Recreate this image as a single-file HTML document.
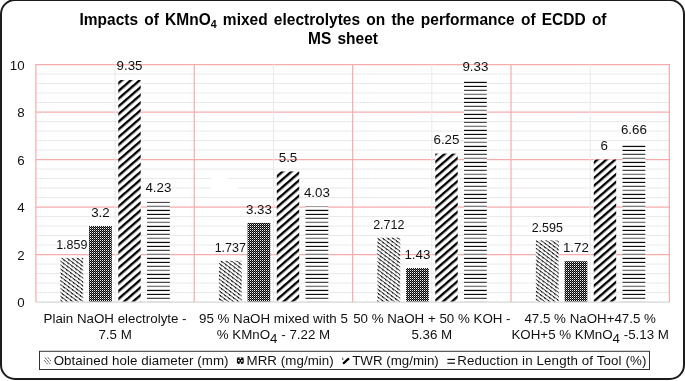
<!DOCTYPE html>
<html><head><meta charset="utf-8"><title>chart</title>
<style>
html,body{margin:0;padding:0;background:#fff;}
body{width:685px;height:381px;overflow:hidden;position:relative;font-family:"Liberation Sans",sans-serif;}
#frame{position:absolute;left:-0.2px;top:-1.1px;width:681.3px;height:377.5px;border:2px solid #1c1c1c;border-radius:15px;box-sizing:content-box;}
svg{position:absolute;left:0;top:0;}
text{font-family:"Liberation Sans",sans-serif;fill:#111;}
.ax{font-size:13.33px;}
.dl{font-size:13.33px;text-anchor:middle;}
.cat{font-size:13.33px;text-anchor:middle;}
.lg{font-size:13.33px;}
.ttl{font-size:16px;font-weight:bold;text-anchor:middle;fill:#000;word-spacing:1.96px;}
</style></head><body>
<div id="frame"></div>
<svg width="685" height="381" viewBox="0 0 685 381">
<defs>
<pattern id="p1" width="5" height="3.12" patternUnits="userSpaceOnUse" patternTransform="rotate(37) skewX(27.2)">
<rect width="5" height="3.12" fill="#fff"/><rect x="0" y="0.15" width="5" height="0.75" fill="#111"/><rect x="0" y="0" width="1.7" height="1.2" fill="#000"/>
</pattern>
<pattern id="p2" width="2" height="2" patternUnits="userSpaceOnUse">
<rect width="2" height="2" fill="#000"/><rect x="0" y="0" width="1" height="1" fill="#f4f4f4"/><rect x="1" y="1" width="1" height="1" fill="#666"/>
</pattern>
<pattern id="p3" width="8" height="5.81" patternUnits="userSpaceOnUse" patternTransform="rotate(-41)">
<rect width="8" height="5.81" fill="#fff"/><rect x="0" y="0" width="8" height="2.35" fill="#000"/>
</pattern>
<pattern id="p4" width="4" height="16" patternUnits="userSpaceOnUse">
<rect width="4" height="16" fill="#fff"/><rect x="0" y="1.8" width="4" height="1.25" fill="#0c0c0c"/><rect x="0" y="5.85" width="4" height="1.15" fill="#0c0c0c"/><rect x="0" y="9.75" width="4" height="1.25" fill="#484848"/><rect x="0" y="13.7" width="4" height="1.35" fill="#7a7a7a"/>
</pattern>
</defs>

<line x1="35.9" x2="669.4" y1="292.55" y2="292.55" stroke="#e9e9e9" stroke-width="1"/>
<line x1="35.9" x2="669.4" y1="283.05" y2="283.05" stroke="#e9e9e9" stroke-width="1"/>
<line x1="35.9" x2="669.4" y1="273.55" y2="273.55" stroke="#e9e9e9" stroke-width="1"/>
<line x1="35.9" x2="669.4" y1="264.05" y2="264.05" stroke="#e9e9e9" stroke-width="1"/>
<line x1="35.9" x2="669.4" y1="245.05" y2="245.05" stroke="#e9e9e9" stroke-width="1"/>
<line x1="35.9" x2="669.4" y1="235.55" y2="235.55" stroke="#e9e9e9" stroke-width="1"/>
<line x1="35.9" x2="669.4" y1="226.05" y2="226.05" stroke="#e9e9e9" stroke-width="1"/>
<line x1="35.9" x2="669.4" y1="216.55" y2="216.55" stroke="#e9e9e9" stroke-width="1"/>
<line x1="35.9" x2="669.4" y1="197.55" y2="197.55" stroke="#e9e9e9" stroke-width="1"/>
<line x1="35.9" x2="669.4" y1="188.05" y2="188.05" stroke="#e9e9e9" stroke-width="1"/>
<line x1="35.9" x2="669.4" y1="178.55" y2="178.55" stroke="#e9e9e9" stroke-width="1"/>
<line x1="35.9" x2="669.4" y1="169.05" y2="169.05" stroke="#e9e9e9" stroke-width="1"/>
<line x1="35.9" x2="669.4" y1="150.05" y2="150.05" stroke="#e9e9e9" stroke-width="1"/>
<line x1="35.9" x2="669.4" y1="140.55" y2="140.55" stroke="#e9e9e9" stroke-width="1"/>
<line x1="35.9" x2="669.4" y1="131.05" y2="131.05" stroke="#e9e9e9" stroke-width="1"/>
<line x1="35.9" x2="669.4" y1="121.55" y2="121.55" stroke="#e9e9e9" stroke-width="1"/>
<line x1="35.9" x2="669.4" y1="102.55" y2="102.55" stroke="#e9e9e9" stroke-width="1"/>
<line x1="35.9" x2="669.4" y1="93.05" y2="93.05" stroke="#e9e9e9" stroke-width="1"/>
<line x1="35.9" x2="669.4" y1="83.55" y2="83.55" stroke="#e9e9e9" stroke-width="1"/>
<line x1="35.9" x2="669.4" y1="74.05" y2="74.05" stroke="#e9e9e9" stroke-width="1"/>
<line x1="35.9" x2="669.4" y1="254.55" y2="254.55" stroke="#f7acac" stroke-width="1.2"/>
<line x1="35.9" x2="669.4" y1="207.05" y2="207.05" stroke="#f7acac" stroke-width="1.2"/>
<line x1="35.9" x2="669.4" y1="159.55" y2="159.55" stroke="#f7acac" stroke-width="1.2"/>
<line x1="35.9" x2="669.4" y1="112.05" y2="112.05" stroke="#f7acac" stroke-width="1.2"/>
<line x1="35.9" x2="669.4" y1="64.55" y2="64.55" stroke="#f7acac" stroke-width="1.2"/>
<line x1="115.09" x2="115.09" y1="64.55" y2="302.05" stroke="#e9e9e9" stroke-width="1"/>
<line x1="273.46" x2="273.46" y1="64.55" y2="302.05" stroke="#e9e9e9" stroke-width="1"/>
<line x1="431.84" x2="431.84" y1="64.55" y2="302.05" stroke="#e9e9e9" stroke-width="1"/>
<line x1="590.21" x2="590.21" y1="64.55" y2="302.05" stroke="#e9e9e9" stroke-width="1"/>
<line x1="35.9" x2="669.4" y1="302.05" y2="302.05" stroke="#d6d6d6" stroke-width="1.2"/>
<line x1="35.90" x2="35.90" y1="63.949999999999996" y2="302.05" stroke="#f7acac" stroke-width="1.2"/>
<line x1="194.28" x2="194.28" y1="63.949999999999996" y2="302.05" stroke="#f7acac" stroke-width="1.2"/>
<line x1="352.65" x2="352.65" y1="63.949999999999996" y2="302.05" stroke="#f7acac" stroke-width="1.2"/>
<line x1="511.02" x2="511.02" y1="63.949999999999996" y2="302.05" stroke="#f7acac" stroke-width="1.2"/>
<line x1="669.40" x2="669.40" y1="63.949999999999996" y2="302.05" stroke="#f7acac" stroke-width="1.2"/>
<text class="ax" x="24.6" y="307.05" text-anchor="end">0</text>
<text class="ax" x="24.6" y="259.55" text-anchor="end">2</text>
<text class="ax" x="24.6" y="212.05" text-anchor="end">4</text>
<text class="ax" x="24.6" y="164.55" text-anchor="end">6</text>
<text class="ax" x="24.6" y="117.05" text-anchor="end">8</text>
<text class="ax" x="24.6" y="69.55" text-anchor="end">10</text>
<rect x="211" y="175" width="16.1" height="8" fill="#fff"/><rect x="211" y="183" width="26.9" height="9" fill="#fff"/>
<rect x="60.40" y="257.90" width="22.8" height="43.55" fill="url(#p1)"/>
<rect x="89.10" y="226.05" width="22.7" height="75.40" fill="url(#p2)"/>
<rect x="118.30" y="79.99" width="22.4" height="221.46" fill="url(#p3)"/>
<rect x="147.00" y="201.59" width="22.8" height="99.86" fill="url(#p4)"/>
<rect x="218.90" y="260.80" width="22.8" height="40.65" fill="url(#p1)"/>
<rect x="247.60" y="222.96" width="22.7" height="78.49" fill="url(#p2)"/>
<rect x="276.80" y="171.43" width="22.4" height="130.03" fill="url(#p3)"/>
<rect x="305.50" y="206.34" width="22.8" height="95.11" fill="url(#p4)"/>
<rect x="377.39" y="237.64" width="22.8" height="63.81" fill="url(#p1)"/>
<rect x="406.09" y="268.09" width="22.7" height="33.36" fill="url(#p2)"/>
<rect x="435.29" y="153.61" width="22.4" height="147.84" fill="url(#p3)"/>
<rect x="463.99" y="80.46" width="22.8" height="220.99" fill="url(#p4)"/>
<rect x="535.88" y="240.42" width="22.8" height="61.03" fill="url(#p1)"/>
<rect x="564.59" y="261.20" width="22.7" height="40.25" fill="url(#p2)"/>
<rect x="593.78" y="159.55" width="22.4" height="141.90" fill="url(#p3)"/>
<rect x="622.49" y="143.88" width="22.8" height="157.58" fill="url(#p4)"/>
<text class="dl" x="71.80" y="249.08" textLength="31.3" lengthAdjust="spacingAndGlyphs">1.859</text>
<text class="dl" x="100.45" y="217.07">3.2</text>
<text class="dl" x="129.50" y="70.27">9.35</text>
<text class="dl" x="158.40" y="192.48">4.23</text>
<text class="dl" x="230.30" y="251.99" textLength="31.3" lengthAdjust="spacingAndGlyphs">1.737</text>
<text class="dl" x="258.95" y="213.96">3.33</text>
<text class="dl" x="288.00" y="162.17">5.5</text>
<text class="dl" x="316.89" y="197.25">4.03</text>
<text class="dl" x="388.79" y="228.71" textLength="31.3" lengthAdjust="spacingAndGlyphs">2.712</text>
<text class="dl" x="417.44" y="259.32">1.43</text>
<text class="dl" x="446.49" y="144.26">6.25</text>
<text class="dl" x="475.39" y="70.74">9.33</text>
<text class="dl" x="547.28" y="231.51" textLength="31.3" lengthAdjust="spacingAndGlyphs">2.595</text>
<text class="dl" x="575.94" y="252.39">1.72</text>
<text class="dl" x="604.19" y="150.23">6</text>
<text class="dl" x="633.88" y="134.48">6.66</text>
<text class="cat" x="115.09" y="323.2">Plain NaOH electrolyte -</text>
<text class="cat" x="115.09" y="338.7">7.5 M</text>
<text class="cat" x="273.46" y="323.2">95 % NaOH mixed with 5</text>
<text class="cat" x="273.46" y="338.7">% KMnO<tspan dy="4.6" font-size="13.33">4</tspan><tspan dy="-4.6"> - 7.22 M</tspan></text>
<text class="cat" x="431.84" y="323.2">50 % NaOH + 50 % KOH -</text>
<text class="cat" x="431.84" y="338.7">5.36 M</text>
<text class="cat" x="590.21" y="323.2">47.5 % NaOH+47.5 %</text>
<text class="cat" x="590.21" y="338.7">KOH+5 % KMnO<tspan dy="4.6" font-size="13.33">4</tspan><tspan dy="-4.6"> -5.13 M</tspan></text>
<g transform="translate(343,0) scale(0.969,1)"><text class="ttl" x="0" y="25.2">Impacts of KMnO<tspan dy="3" font-size="11">4</tspan><tspan dy="-3"> mixed electrolytes on the performance of ECDD of</tspan></text>
<text class="ttl" x="0" y="43.6">MS sheet</text></g>
<rect x="39.5" y="351.3" width="610" height="18.2" fill="#fff" stroke="#333" stroke-width="1"/>
<text class="lg" x="53.7" y="365.3" textLength="174.8" lengthAdjust="spacing">Obtained hole diameter (mm)</text>
<text class="lg" x="246.5" y="365.3" textLength="87.3" lengthAdjust="spacing">MRR (mg/min)</text>
<text class="lg" x="352.2" y="365.3" textLength="86.6" lengthAdjust="spacing">TWR (mg/min)</text>
<text class="lg" x="457.2" y="365.3" textLength="189.3" lengthAdjust="spacing">Reduction in Length of Tool (%)</text>
<g stroke="#222" stroke-width="0.9" stroke-dasharray="2.6 0.7" fill="none" opacity="0.85"><path d="M44.2 360.2 L47.6 364.3"/><path d="M45.0 357.6 L50.2 364.0"/><path d="M47.9 357.4 L51.0 361.2"/></g>
<rect x="236.9" y="357.4" width="6.8" height="6.6" fill="#0a0a0a"/><g fill="#fff"><rect x="239.6" y="357.5" width="1.5" height="1.5"/><rect x="238.0" y="359.9" width="1.5" height="1.5"/><rect x="241.1" y="360.1" width="1.5" height="1.5"/><rect x="239.6" y="362.3" width="1.5" height="1.5"/><rect x="236.9" y="357.4" width="0.9" height="0.9"/><rect x="242.8" y="357.4" width="0.9" height="0.9"/><rect x="236.9" y="363.1" width="0.9" height="0.9"/><rect x="242.8" y="363.1" width="0.9" height="0.9"/></g>
<path d="M343.7 363.1 L348.4 358.9" stroke="#000" stroke-width="2.2" stroke-linecap="round" fill="none"/><path d="M342.5 357.7 L343.0 359.9" stroke="#222" stroke-width="0.9" fill="none"/>
<rect x="447.4" y="358.8" width="7.6" height="1.2" fill="#111"/><rect x="447.4" y="362.6" width="7.6" height="1.2" fill="#111"/>
</svg></body></html>
